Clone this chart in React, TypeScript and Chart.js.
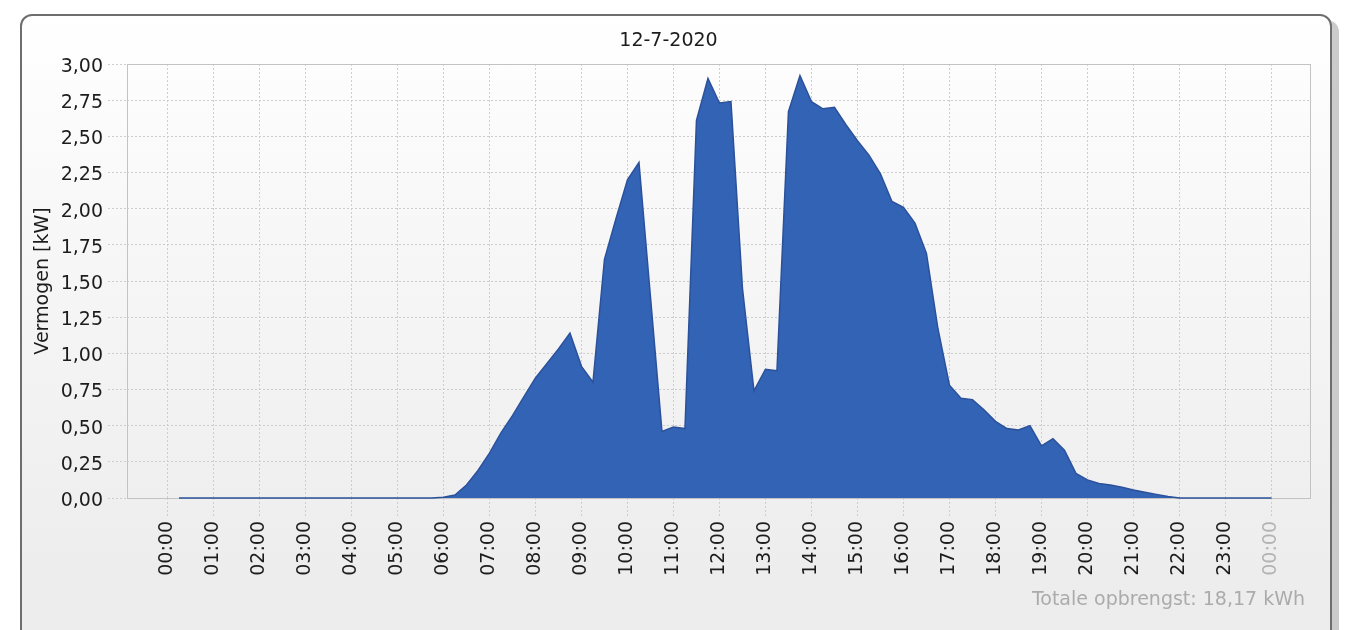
import React, { useEffect, useRef } from 'react';
import { Chart, registerables } from 'chart.js';

Chart.register(...registerables);

const chartTitle = '12-7-2020';
const yAxisTitle = 'Vermogen [kW]';
const footerText = 'Totale opbrengst: 18,17 kWh';

// one value per 15 minutes, first sample at 00:15, last at 24:00 (kW)
const slotMinutes = 15;
const power: number[] = [
  0, 0, 0, 0, // 00:15-01:00
  0, 0, 0, 0, // 01:15-02:00
  0, 0, 0, 0, // 02:15-03:00
  0, 0, 0, 0, // 03:15-04:00
  0, 0, 0, 0, // 04:15-05:00
  0, 0, 0, 0.005, // 05:15-06:00
  0.02, 0.09, 0.19, 0.31, // 06:15-07:00
  0.45, 0.57, 0.7, 0.83, // 07:15-08:00
  0.93, 1.03, 1.14, 0.91, // 08:15-09:00
  0.8, 1.65, 1.93, 2.2, // 09:15-10:00
  2.32, 1.39, 0.46, 0.49, // 10:15-11:00
  0.48, 2.61, 2.9, 2.73, // 11:15-12:00
  2.74, 1.45, 0.74, 0.89, // 12:15-13:00
  0.88, 2.67, 2.92, 2.74, // 13:15-14:00
  2.69, 2.7, 2.58, 2.47, // 14:15-15:00
  2.37, 2.24, 2.05, 2.01, // 15:15-16:00
  1.9, 1.69, 1.17, 0.78, // 16:15-17:00
  0.69, 0.68, 0.61, 0.53, // 17:15-18:00
  0.48, 0.47, 0.5, 0.36, // 18:15-19:00
  0.41, 0.33, 0.17, 0.125, // 19:15-20:00
  0.1, 0.09, 0.075, 0.055, // 20:15-21:00
  0.04, 0.025, 0.01, 0, // 21:15-22:00
  0, 0, 0, 0, // 22:15-23:00
  0, 0, 0, 0, // 23:15-24:00
];

const hourTicks = [0, 1, 2, 3, 4, 5, 6, 7, 8, 9, 10, 11, 12, 13, 14, 15, 16, 17, 18, 19, 20, 21, 22, 23, 24];
const hourLabels = [
  '00:00', '01:00', '02:00', '03:00', '04:00', '05:00', '06:00', '07:00', '08:00', '09:00',
  '10:00', '11:00', '12:00', '13:00', '14:00', '15:00', '16:00', '17:00', '18:00', '19:00',
  '20:00', '21:00', '22:00', '23:00', '00:00',
];
const yTicks = [0, 0.25, 0.5, 0.75, 1, 1.25, 1.5, 1.75, 2, 2.25, 2.5, 2.75, 3];

const FONT = '"DejaVu Sans"';
const GRID = '#cdcdcd';

const framePlugin = {
  id: 'framePlugin',
  beforeDatasetsDraw(chart: any) {
    const { ctx, chartArea } = chart;
    ctx.save();
    ctx.strokeStyle = '#c3c3c3';
    ctx.lineWidth = 1;
    ctx.setLineDash([]);
    ctx.strokeRect(
      Math.round(chartArea.left) + 0.5,
      Math.round(chartArea.top) + 0.5,
      Math.round(chartArea.right - chartArea.left) - 1,
      Math.round(chartArea.bottom - chartArea.top)
    );
    ctx.restore();
  },
  afterDraw(chart: any) {
    const { ctx, chartArea } = chart;
    ctx.save();
    ctx.font = `19px ${FONT}`;
    ctx.fillStyle = '#1c1c1c';
    ctx.textAlign = 'center';
    ctx.textBaseline = 'alphabetic';
    ctx.fillText(chartTitle, 668.5, 46);

    ctx.save();
    ctx.translate(48, (chartArea.top + chartArea.bottom) / 2);
    ctx.rotate(-Math.PI / 2);
    ctx.textAlign = 'center';
    ctx.fillText(yAxisTitle, 0, 0);
    ctx.restore();

    ctx.fillStyle = '#ababab';
    ctx.textAlign = 'right';
    ctx.fillText(footerText, 1305, 605);
    ctx.restore();
  },
};

export default function App() {
  const canvasRef = useRef<HTMLCanvasElement | null>(null);

  useEffect(() => {
    const canvas = canvasRef.current;
    if (!canvas) return;
    const points = power.map((v, i) => ({ x: ((i + 1) * slotMinutes) / 60, y: v }));
    const chart = new Chart(canvas, {
      type: 'line',
      data: {
        datasets: [
          {
            data: points,
            fill: 'origin',
            backgroundColor: '#3363b5',
            borderColor: '#2b519b',
            borderWidth: 1.5,
            pointRadius: 0,
            tension: 0,
            clip: 4,
          } as any,
        ],
      },
      options: {
        animation: false,
        responsive: false,
        maintainAspectRatio: false,
        layout: { padding: { left: 0, right: 45, top: 64, bottom: 0 } },
        plugins: {
          legend: { display: false },
          tooltip: { enabled: false },
          title: { display: false },
        },
        scales: {
          x: {
            type: 'linear',
            min: -0.88,
            max: 24.86,
            afterBuildTicks: (s: any) => {
              s.ticks = hourTicks.map((v) => ({ value: v }));
            },
            afterFit: (s: any) => {
              s.height = 132;
            },
            grid: {
              color: GRID,
              lineWidth: 1,
              tickLength: 18,
              tickColor: GRID,
              tickBorderDash: [2, 2],
            },
            border: { display: false, dash: [2, 2] },
            ticks: {
              autoSkip: false,
              minRotation: 90,
              maxRotation: 90,
              padding: 5,
              font: { family: FONT, size: 19 },
              color: (c: any) => (c.index === 24 ? '#b3b3b3' : '#1c1c1c'),
              callback: (_v: any, i: number) => hourLabels[i],
            },
          },
          y: {
            type: 'linear',
            min: 0,
            max: 3,
            afterBuildTicks: (s: any) => {
              s.ticks = yTicks.map((v) => ({ value: v }));
            },
            afterFit: (s: any) => {
              s.width = 127;
            },
            grid: {
              color: GRID,
              lineWidth: 1,
              tickLength: 19,
              tickColor: GRID,
              tickBorderDash: [2, 2],
            },
            border: { display: false, dash: [2, 2] },
            ticks: {
              padding: 5,
              labelOffset: 3,
              font: { family: FONT, size: 19 },
              color: '#1c1c1c',
              callback: (v: any) => Number(v).toFixed(2).replace('.', ','),
            },
          },
        },
      },
      plugins: [framePlugin],
    });
    return () => chart.destroy();
  }, []);

  return (
    <div
      style={{
        position: 'fixed',
        left: 0,
        top: 0,
        width: 1356,
        height: 630,
        overflow: 'hidden',
        background: '#ffffff',
      }}
    >
      <div
        style={{
          position: 'absolute',
          left: 20,
          top: 14,
          width: 1312,
          height: 720,
          boxSizing: 'border-box',
          border: '2px solid #6e6e6e',
          borderRadius: 12,
          boxShadow: '7px 6px 0 #cbcbcb',
          background: 'linear-gradient(to bottom, #ffffff 0px, #f7f7f7 220px, #ededed 560px, #ececec 720px)',
        }}
      />
      <canvas
        ref={canvasRef}
        width={1356}
        height={630}
        style={{ position: 'absolute', left: 0, top: 0, width: 1356, height: 630 }}
      />
    </div>
  );
}
